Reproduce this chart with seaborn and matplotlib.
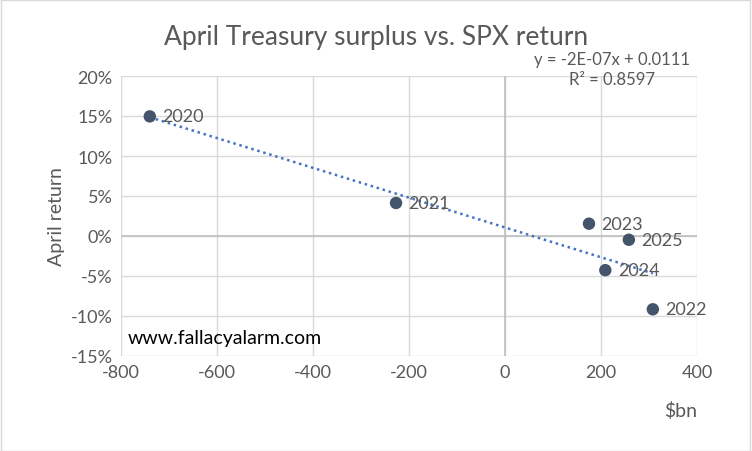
import numpy as np
import matplotlib
matplotlib.use("Agg")
import matplotlib.pyplot as plt
import seaborn as sns
from matplotlib.ticker import PercentFormatter
from matplotlib.patches import Rectangle

years = ["2020", "2021", "2023", "2025", "2024", "2022"]
surplus_bn = [-740, -227, 175, 258, 209, 308]
april_return = [0.1495, 0.0413, 0.0154, -0.0047, -0.0427, -0.0916]

sns.set_style("white")
plt.rcParams["font.family"] = ["Lato", "DejaVu Sans"]
plt.rcParams["axes.unicode_minus"] = False
grey = "#595959"

fig = plt.figure(figsize=(7.52, 4.52), dpi=100)
fig.patches.append(Rectangle((0.001, 0.001), 0.997, 0.997, transform=fig.transFigure,
                             fill=False, edgecolor="#D9D9D9", lw=1))
ax = fig.add_axes([121 / 752, 1 - 357 / 452, 576 / 752, 280 / 452])

# trendline
slope, icpt = np.polyfit(surplus_bn, april_return, 1)
xs = np.array([min(surplus_bn), max(surplus_bn)])
ax.plot(xs, slope * xs + icpt, color="#4472C4", linestyle=(0, (1, 1.5)), lw=1.8, zorder=2)

sns.scatterplot(x=surplus_bn, y=april_return, ax=ax, color="#44546A", s=80,
                edgecolor="none", zorder=3)
for x, y, t in zip(surplus_bn, april_return, years):
    ax.annotate(t, (x, y), xytext=(9, 0), textcoords="offset points",
                va="center", ha="left", fontsize=13, color=grey)

ax.set_xlim(-800, 400)
ax.set_ylim(-0.15, 0.20)
ax.set_xticks(range(-800, 401, 200))
ax.set_yticks(np.arange(-0.15, 0.201, 0.05))
ax.yaxis.set_major_formatter(PercentFormatter(1.0, decimals=0))
ax.grid(True, color="#D9D9D9", lw=1)
ax.axhline(0, color="#BFBFBF", lw=1.2, zorder=1)
ax.axvline(0, color="#BFBFBF", lw=1.2, zorder=1)
for s in ax.spines.values():
    s.set_visible(False)
ax.tick_params(length=0, labelsize=13, labelcolor=grey, pad=6)
ax.set_ylabel("April return", fontsize=14, color=grey)
fig.text(697 / 752, 1 - 411 / 452, "$bn", ha="right", va="center", fontsize=14, color=grey)

fig.suptitle("April Treasury surplus vs. SPX return", x=0.5, y=1 - 37 / 452, va="center",
             fontsize=19, color=grey)
fig.text(612 / 752, 1 - 60 / 452, "y = -2E-07x + 0.0111", ha="center", va="center",
         fontsize=12, color=grey)
fig.text(612 / 752, 1 - 80 / 452, "R² = 0.8597", ha="center", va="center",
         fontsize=12, color=grey)
ax.text(0.012, 0.035, "www.fallacyalarm.com", transform=ax.transAxes, fontsize=14,
        color="black", va="bottom", ha="left")

fig.savefig("out.png", dpi=100)
